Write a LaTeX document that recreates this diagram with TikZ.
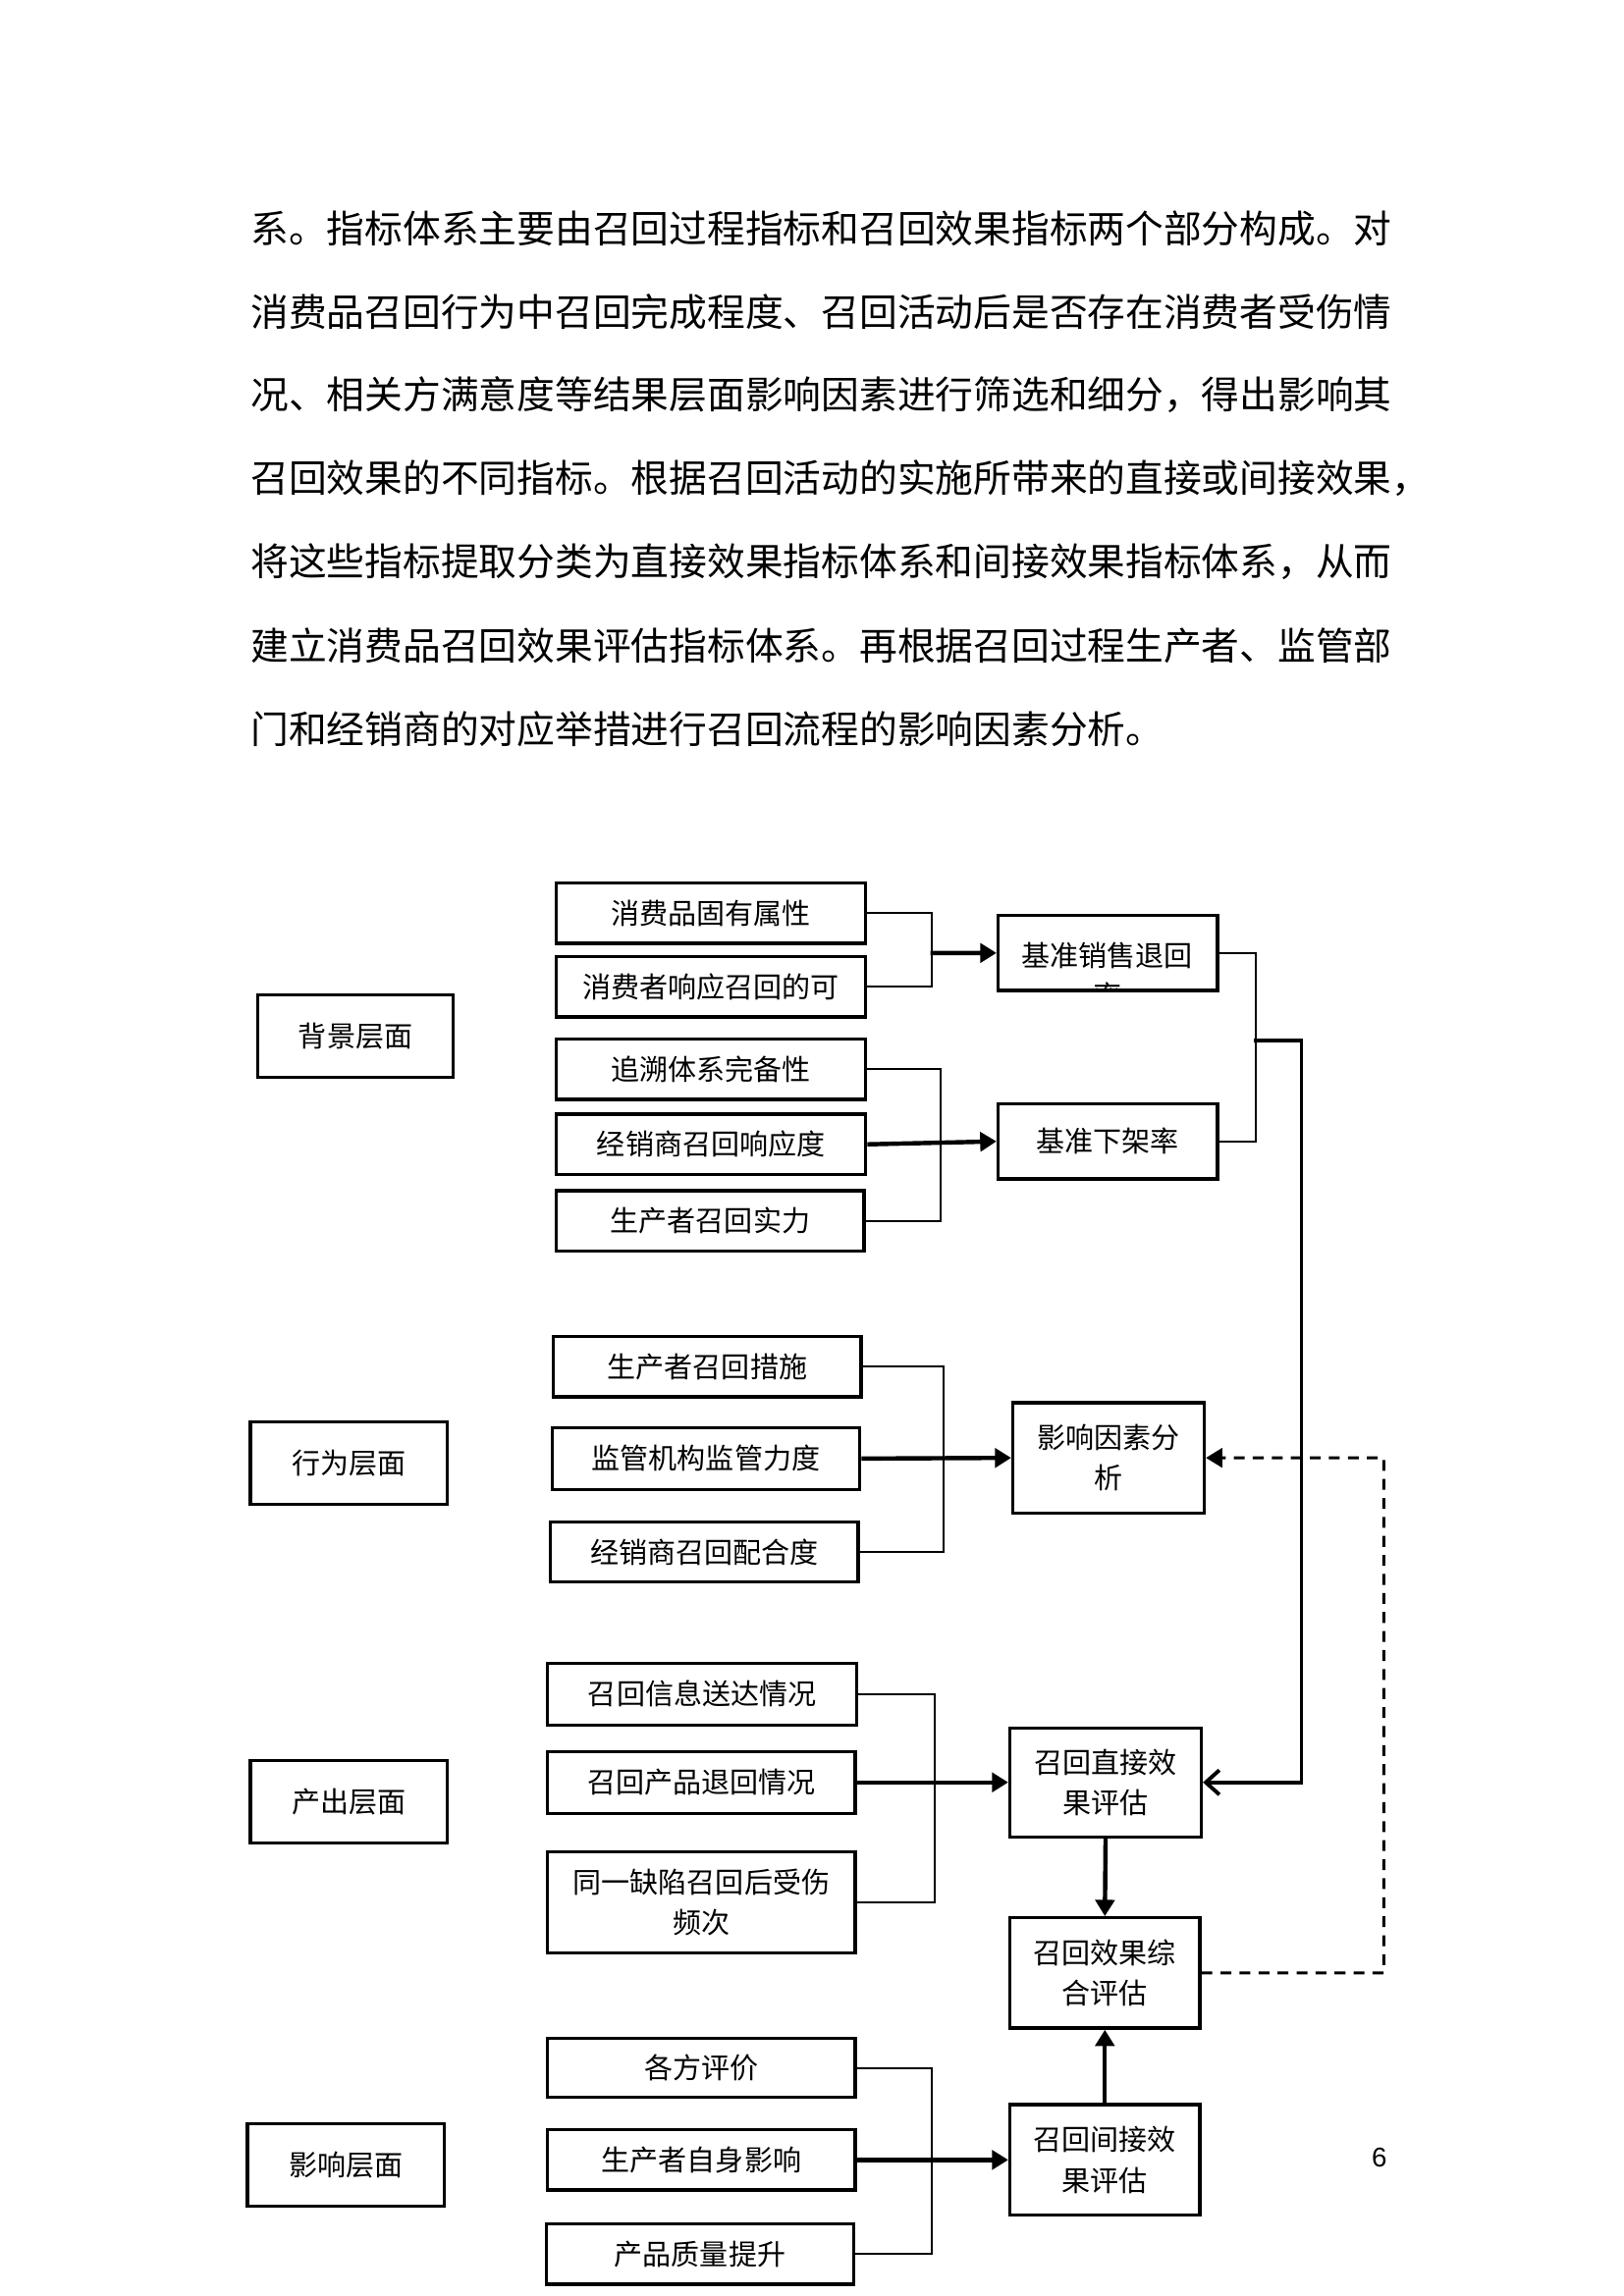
\documentclass[tikz,border=0pt]{standalone}
\usepackage{fontspec}
\setmainfont{Liberation Sans}
\newfontfamily\cjk{Noto Sans CJK SC}
\usetikzlibrary{fit,arrows.meta}

\begin{document}
\begin{tikzpicture}
		[x=0.019039cm, y=-0.019039cm,
		txt/.style={align=center,inner sep=0pt,font=\cjk\fontsize{10.5}{15}\selectfont},
		box/.style={draw,line width=1.2pt,inner sep=0pt},
		link/.style={line width=0.8pt},
		arr/.style={line width=1.6pt,-{Triangle[length=6pt,width=7pt]}},
		dashlink/.style={line width=1.1pt,dash pattern=on 4pt off 3pt,-{Triangle[length=6pt,width=7pt]}},]
		\useasboundingbox (0,0) rectangle (1103,1560);
		% paragraph
		\foreach \t [count=\i] in
		{
			系。指标体系主要由召回过程指标和召回效果指标两个部分构成。对,
			消费品召回行为中召回完成程度、召回活动后是否存在消费者受伤情,
			况、相关方满意度等结果层面影响因素进行筛选和细分，得出影响其,
			召回效果的不同指标。根据召回活动的实施所带来的直接或间接效果，,
			将这些指标提取分类为直接效果指标体系和间接效果指标体系，从而,
			建立消费品召回效果评估指标体系。再根据召回过程生产者、监管部,
			门和经销商的对应举措进行召回流程的影响因素分析。
		}
		{
			\node[anchor=west,inner sep=0pt,font=\cjk\fontsize{14}{14}\selectfont,name=p\i] at (170,98.3+56.7*\i) {\t};
		}
		% layers
		\node[box,fit={(175,676) (308,732)},label={[txt]center:背景层面},name=bg]{};
		\node[box,fit={(170,966) (304,1022)},label={[txt]center:行为层面},name=xw]{};
		\node[box,fit={(170,1196) (304,1252)},label={[txt]center:产出层面},name=cc]{};
		\node[box,fit={(168,1443) (302,1499)},label={[txt]center:影响层面},name=yx]{};
		% factors
		\node[box,fit={(378,600) (588,641)},label={[txt]center:消费品固有属性},name=a1]{};
		\node[box,fit={(378,650) (588,691)},label={[txt]center:消费者响应召回的可},name=a2]{};
		\node[box,fit={(378,706) (588,747)},label={[txt]center:追溯体系完备性},name=a3]{};
		\node[box,fit={(378,757) (588,798)},label={[txt]center:经销商召回响应度},name=a4]{};
		\node[box,fit={(378,809) (587,850)},label={[txt]center:生产者召回实力},name=a5]{};
		\node[box,fit={(376,908) (585,949)},label={[txt]center:生产者召回措施},name=b1]{};
		\node[box,fit={(375,970) (584,1012)},label={[txt]center:监管机构监管力度},name=b2]{};
		\node[box,fit={(374,1034) (583,1075)},label={[txt]center:经销商召回配合度},name=b3]{};
		\node[box,fit={(372,1130) (582,1172)},label={[txt]center:召回信息送达情况},name=c1]{};
		\node[box,fit={(372,1190) (581,1232)},label={[txt]center:召回产品退回情况},name=c2]{};
		\node[box,fit={(372,1258) (581,1327)},label={[txt]center:同一缺陷召回后受伤\\频次},name=c3]{};
		\node[box,fit={(372,1385) (581,1425)},label={[txt]center:各方评价},name=d1]{};
		\node[box,fit={(372,1447) (581,1488)},label={[txt]center:生产者自身影响},name=d2]{};
		\node[box,fit={(371,1511) (580,1552)},label={[txt]center:产品质量提升},name=d3]{};
		% results
		\node[box,fit={(678,622) (827,673)},name=r1]{};
		\begin{scope}
			\clip (679,623) rectangle (826,671);
			\node[txt] at (752,663) {基准销售退回\\率};
		\end{scope}
		\node[box,fit={(678,750) (827,801)},label={[txt]center:基准下架率},name=r2]{};
		\node[box,fit={(688,953) (818,1028)},label={[txt]center:影响因素分\\析},name=r3]{};
		\node[box,fit={(686,1174) (816,1248)},label={[txt]center:召回直接效\\果评估},name=r4]{};
		\node[box,fit={(686,1303) (815,1378)},label={[txt]center:召回效果综\\合评估},name=r5]{};
		\node[box,fit={(686,1430) (815,1505)},label={[txt]center:召回间接效\\果评估},name=r6]{};
		\node[font=\fontsize{10}{12}\selectfont,name=pg] at (937,1466) {6};
		% joints
		\coordinate (j1) at (632,647.5);
		\coordinate (j2) at (852,707);
		\coordinate (j3) at (940,990.5);
		% brackets
		\draw[link] (a1.east) -- ++(44,0) |- (a2.east);
		\draw[link] (a3.east) -- ++(50,0) |- (a5.east);
		\draw[link] (b1.east) -- ++(55,0) |- (b3.east);
		\draw[link] (c1.east) -- ++(52,0) |- (c3.east);
		\draw[link] (d1.east) -- ++(51,0) |- (d3.east);
		\draw[link] (r1.east) -- ++(25,0) |- (r2.east);
		% arrows
		\draw[arr] (j1) -- (r1.west);
		\draw[arr] (a4.east) -- (r2.west);
		\draw[arr] (b2.east) -- (r3.west);
		\draw[arr] (c2.east) -- (r4.west);
		\draw[arr] (d2.east) -- (r6.west);
		\draw[arr] (r4.south) -- (r5.north);
		\draw[arr] (r6.north) -- (r5.south);
		\draw[line width=1.4pt,-{Straight Barb[length=5pt,width=9pt]}] (j2) -- (884,707) |- (r4.east);
		\draw[dashlink] (r5.east) -| (j3) -- (r3.east);
	\end{tikzpicture}
\end{document}
